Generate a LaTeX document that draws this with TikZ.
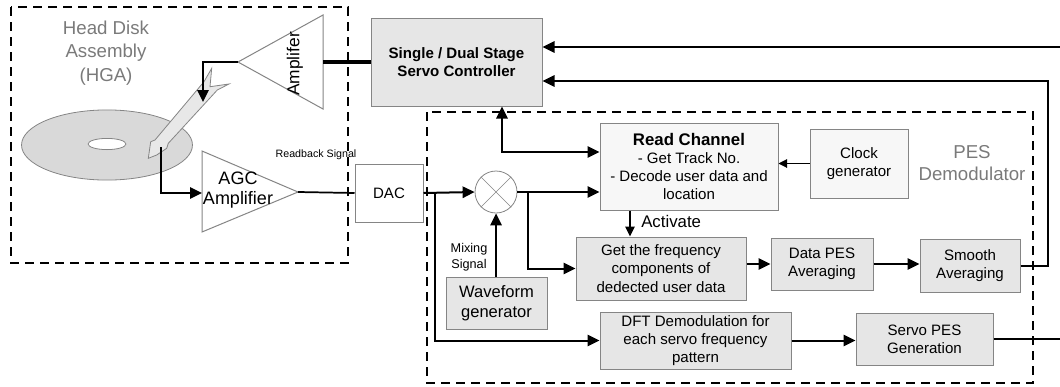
\documentclass[tikz,border=0pt]{standalone}
\usepackage{fontspec}
\setmainfont{Liberation Sans}
\usetikzlibrary{arrows.meta}

\definecolor{boxfill}{HTML}{E6E6E6}
\definecolor{lightfill}{HTML}{F7F7F7}
\definecolor{edgegray}{HTML}{858585}
\definecolor{labelgray}{HTML}{7A7A7A}
\definecolor{diskgray}{HTML}{D9D9D9}
\definecolor{armgray}{HTML}{E8E8E8}

\tikzset{
  blockbox/.style={draw=edgegray, fill=boxfill, line width=0.75pt, inner sep=0pt,
    align=center, font=\fontsize{11.3}{13.6}\selectfont},
  lightbox/.style={blockbox, fill=lightfill},
  conn/.style={line width=1.5pt, -{Triangle[length=9pt,width=8.5pt]}},
  plainconn/.style={line width=1.5pt},
  thinconn/.style={line width=0.8pt, -{Triangle[length=6.5pt,width=6.5pt]}},
  groupbox/.style={draw=black, line width=1pt, dash pattern=on 6.75pt off 4.5pt},
  grouplabel/.style={text=labelgray, align=center, font=\fontsize{14}{17.5}\selectfont},
  smalllabel/.style={align=center, inner sep=0pt},
  amp/.style={draw=edgegray, fill=white, line width=0.75pt}
}

\begin{document}
\begin{tikzpicture}[x=0.75pt,y=-0.75pt]
\useasboundingbox (0,0) rectangle (1060,386);

% ---------------- group frames ----------------
\draw[groupbox] (11,7) rectangle (348,263);
\draw[groupbox] (427,112) rectangle (1033,383);
\node[grouplabel] (hgalabel) at (106,53) {Head Disk\\Assembly\\(HGA)};
\node[grouplabel, font=\fontsize{14}{16.5}\selectfont] (peslabel) at (972,163) {PES\\Demodulator};

% ---------------- disk and head ----------------
\draw[draw=edgegray, fill=diskgray, line width=0.6pt] (107,145) ellipse [x radius=64.1pt, y radius=26.3pt];
\draw[draw=edgegray, fill=white, line width=0.6pt] (107,144) ellipse [x radius=14.2pt, y radius=4.2pt];
\draw[draw=edgegray, fill=armgray, line width=0.6pt]
  (204,81.7) -- (211.7,68.3) -- (210,86.7) -- (229,84) -- (217.3,90)
  -- (168.3,143.3) -- (166.7,148.3) -- (156.7,155) -- (148.3,158.3)
  -- (150.7,141.7) -- (155,140) -- cycle;

% ---------------- amplifiers ----------------
\draw[amp] (238,62) -- (323,15) -- (323,109) -- cycle;
\node[rotate=90, font=\fontsize{13}{15}\selectfont] (amplabel) at (295,64) {Amplifer};
\coordinate (ampin) at (238,62);
\coordinate (ampout) at (323,62);

\draw[amp] (202,151) -- (298,192) -- (202,232) -- cycle;
\node[align=center, font=\fontsize{13.5}{15}\selectfont] (agclabel) at (238,190) {AGC\\Amplifier};
\coordinate (agcin) at (202,193);
\coordinate (agcout) at (298,192);

\coordinate (headin) at (203,102);
\coordinate (headout) at (161,147);

% ---------------- blocks ----------------
\node[blockbox, minimum width=128.25pt, minimum height=66pt,
      font=\bfseries\fontsize{11.3}{13.5}\selectfont] (ctrl) at (456.5,62)
  {Single / Dual Stage\\Servo Controller};
\node[blockbox, fill=white, minimum width=51pt, minimum height=43.5pt] (dac) at (389,193) {DAC};
\node[draw=edgegray, fill=white, line width=0.6pt, circle, minimum size=31.5pt, inner sep=0pt] (mix) at (496,192) {};
\draw[edgegray, line width=0.5pt] (mix.north east) -- (mix.south west) (mix.north west) -- (mix.south east);

\node[lightbox, minimum width=133.5pt, minimum height=65.25pt] (rc) at (689,166.5)
  {{\bfseries\fontsize{12.6}{14}\selectfont Read Channel}\\- Get Track No.\\- Decode user data and\\location};
\node[lightbox, minimum width=73.5pt, minimum height=51.75pt] (ck) at (859,163.5) {Clock\\generator};
\node[blockbox, minimum width=127.5pt, minimum height=47.25pt] (gf) at (661,268.5)
  {Get the frequency\\components of\\dedected user data};
\node[blockbox, minimum width=76.5pt, minimum height=39pt] (dp) at (822,264) {Data PES\\Averaging};
\node[blockbox, minimum width=75pt, minimum height=39.75pt] (sm) at (970,265.5) {Smooth\\Averaging};
\node[blockbox, minimum width=143.25pt, minimum height=42.75pt] (dft) at (695.5,340.5)
  {DFT Demodulation for\\each servo frequency\\pattern};
\node[blockbox, minimum width=102.75pt, minimum height=39pt] (sp) at (924.5,339) {Servo PES\\Generation};
\node[blockbox, minimum width=75.75pt, minimum height=39pt,
      font=\fontsize{12.4}{15}\selectfont] (wf) at (496.5,303) {Waveform\\generator};

% ---------------- labels ----------------
\node[smalllabel, font=\fontsize{8}{9.5}\selectfont] (rblabel) at (316,155) {Readback Signal};
\node[smalllabel, font=\fontsize{9.5}{12}\selectfont] (mixlabel) at (469,257) {Mixing\\Signal};
\node[smalllabel, anchor=west, font=\fontsize{12.6}{14}\selectfont] (actlabel) at (641,221) {Activate};

% ---------------- helper points ----------------
\coordinate (j1) at (435,193);
\coordinate (j2) at (528,192);
\coordinate (bus) at (502,152);
\coordinate (act) at (630,0);
\coordinate (fb) at (1048,81);
\coordinate (edgeA) at (1060,47);
\coordinate (edgeB) at (1060,340);

% ---------------- connectors ----------------
\draw[line width=3pt] (ampout) -- (ctrl.west);
\draw[conn] (ampin) -| (headin);
\draw[conn] (headout) |- (agcin);
\draw[plainconn, line width=1.3pt] (agcout) -- (dac.west);
\draw[conn] (dac.east) -- (mix.west);
\draw[conn] (j1) |- (dft.west);
\draw[conn] (mix.east) -- (mix.east -| rc.west);
\draw[conn] (j2) |- (gf.west);
\draw[conn] (wf.north -| mix.south) -- (mix.south);
\draw[line width=1.5pt, {Triangle[length=9pt,width=8.5pt]}-{Triangle[length=9pt,width=8.5pt]}]
  (ctrl.south -| bus) |- (bus -| rc.west);
\draw[thinconn] (ck.west) -- (ck.west -| rc.east);
\draw[line width=1.2pt, -{Triangle[length=7.5pt,width=7pt]}] (rc.south -| act) -- (gf.north -| act);
\draw[conn] (gf.east |- dp.west) -- (dp.west);
\draw[conn] (dp.east) -- (dp.east -| sm.west);
\draw[conn] (sm.east) -| (fb) -- (fb -| ctrl.east);
\draw[conn] (edgeA) -- (edgeA -| ctrl.east);
\draw[conn] (dft.east) -- (dft.east -| sp.west);
\draw[plainconn] (sp.east) -- (sp.east -| edgeB);

\end{tikzpicture}
\end{document}
